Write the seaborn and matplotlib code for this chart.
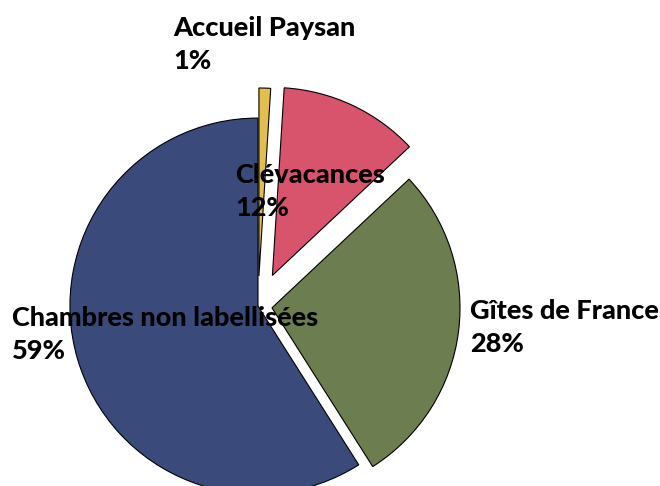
import matplotlib
matplotlib.use("Agg")
import matplotlib.pyplot as plt
import seaborn as sns

categories = ["Accueil Paysan", "Clévacances", "Gîtes de France", "Chambres non labellisées"]
values = [1, 12, 28, 59]
pct_labels = ["1%", "12%", "28%", "59%"]
explode = [0.16, 0.18, 0.075, 0.0]

sns.set_theme(style="white")
plt.rcParams['font.family'] = ['Lato', 'DejaVu Sans']
colors = sns.color_palette(["#E3BE4C", "#D8546C", "#6C7D50", "#3A4B7B"])

fig = plt.figure(figsize=(6.6, 4.86), dpi=100)
ax = fig.add_axes([0, 0, 1, 1])
ax.pie(values, colors=colors, startangle=90, counterclock=False, explode=explode,
       radius=1.0, center=(0, 0),
       wedgeprops=dict(edgecolor="black", linewidth=0.8))
ax.set_xlim(-1.372, 2.138)
ax.set_ylim(-0.957, 1.628)
ax.set_aspect("auto")
ax.axis("off")

label_pos = [(-0.452, 1.545), (-0.122, 0.76), (1.128, 0.036), (-1.309, 0.0)]
for (x, y), cat, p in zip(label_pos, categories, pct_labels):
    ax.text(x, y, f"{cat}\n{p}", ha="left", va="top", fontsize=19.5,
            fontweight="black", color="black", linespacing=1.45)

fig.savefig("out.png", dpi=100)
